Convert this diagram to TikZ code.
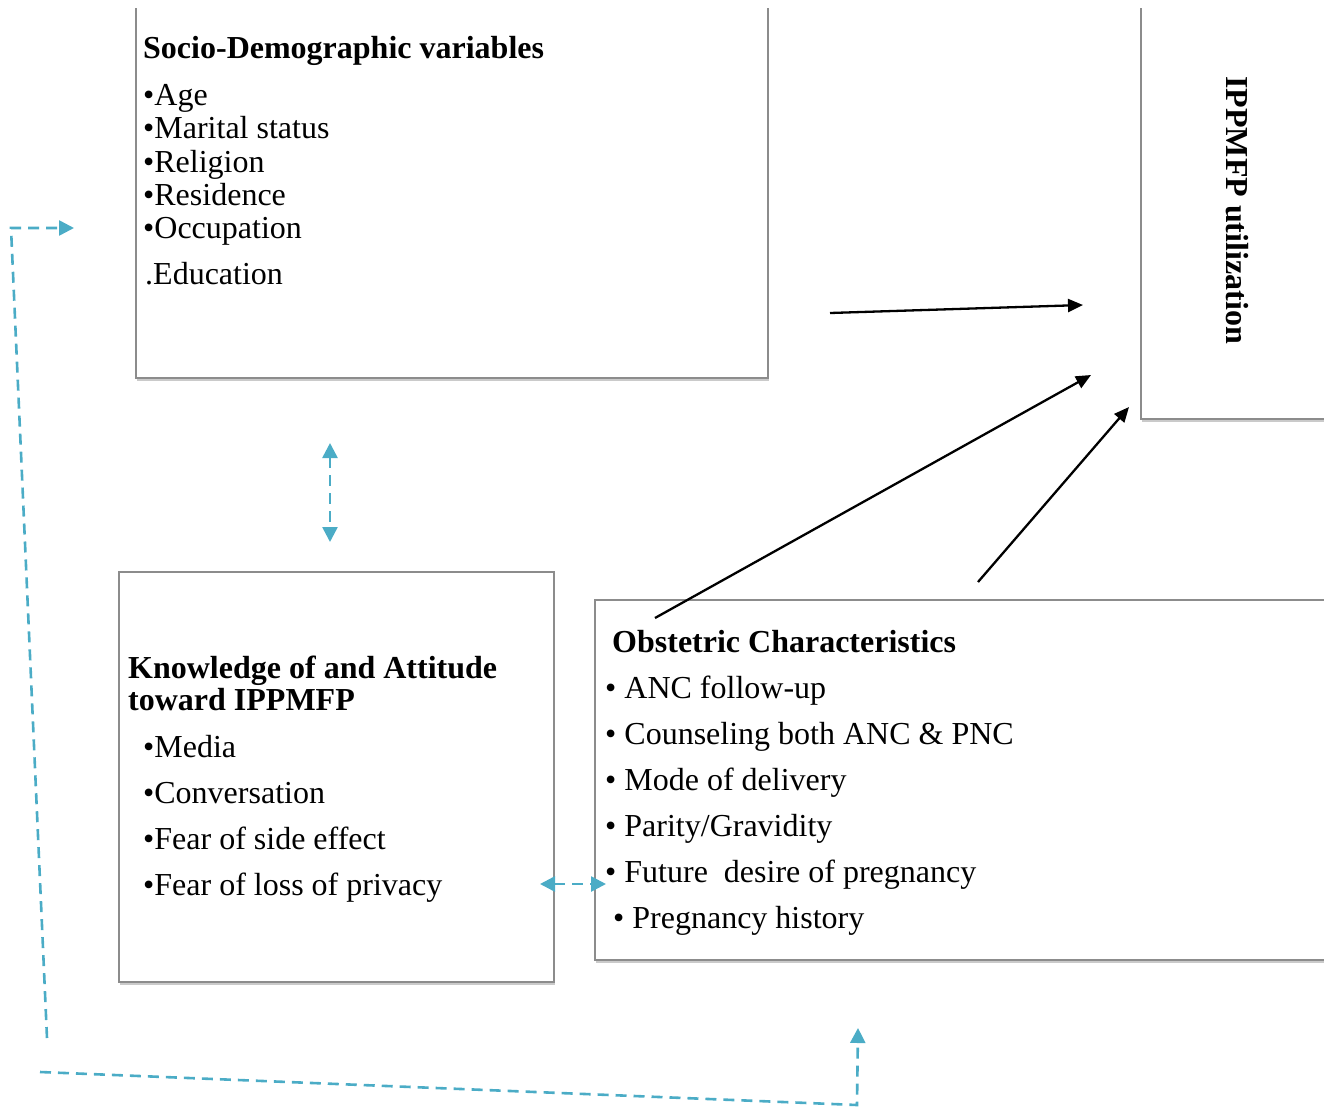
\documentclass[tikz,border=0pt]{standalone}
\usepackage{fontspec}
\setmainfont{Liberation Serif}
\usetikzlibrary{arrows.meta,shadows}
\definecolor{teal1}{HTML}{4BACC6}
\definecolor{boxgray}{HTML}{8C8C8C}
\begin{document}
\begin{tikzpicture}[x=1pt,y=-1pt,
  boxnode/.style={draw=boxgray,line width=1.6pt,fill=white,anchor=north west,inner sep=0pt,
    drop shadow={shadow xshift=1.5pt,shadow yshift=-3pt,opacity=0.35,fill=black!60}},
  txt/.style={anchor=base west,inner sep=0pt,yshift=-2pt,font=\fontsize{32}{36}\selectfont},
  hd/.style={txt,font=\fontsize{32}{36}\selectfont\bfseries},
  blk/.style={line width=2.3pt,-{Triangle[length=15pt,width=13pt]}},
  tl/.style={draw=teal1,line width=2.6pt,dash pattern=on 11pt off 7pt}]
\useasboundingbox (0,0) rectangle (1324,1108);
\begin{scope}
\clip (0,9) rectangle (1324,1108);
\node[boxnode,minimum width=632pt,minimum height=397pt] (socio) at (135,-20) {};
\node[boxnode,minimum width=220pt,minimum height=438pt] (ippm) at (1140,-20) {};
\node[boxnode,minimum width=435pt,minimum height=410pt] (know) at (118,571) {};
\node[boxnode,minimum width=766pt,minimum height=360pt] (obst) at (594,599) {};
\end{scope}
% Socio text
\node[hd] (sh) at (143,57) {Socio-Demographic variables};
\node[txt] (s1) at (143,103) {•Age};
\node[txt] (s2) at (143,136) {•Marital status};
\node[txt] (s3) at (143,170) {•Religion};
\node[txt] (s4) at (143,203) {•Residence};
\node[txt] (s5) at (143,236) {•Occupation};
\node[txt] (s6) at (145,282) {.Education};
% IPPMFP
\node[inner sep=0pt,rotate=-90,font=\fontsize{32}{36}\selectfont\bfseries] (ih) at (1237,210) {IPPMFP utilization};
% Knowledge
\node[hd] (kh1) at (128,676) {Knowledge of and Attitude};
\node[hd] (kh2) at (128,708) {toward IPPMFP};
\node[txt] (k1) at (143,755) {•Media};
\node[txt] (k2) at (143,801) {•Conversation};
\node[txt] (k3) at (143,847) {•Fear of side effect};
\node[txt] (k4) at (143,893) {•Fear of loss of privacy};
% Obstetric
\node[hd] (oh) at (612,650) {Obstetric Characteristics};
\node[txt] (o1) at (605,696) {• ANC follow-up};
\node[txt] (o2) at (605,742) {• Counseling both ANC \& PNC};
\node[txt] (o3) at (605,788) {• Mode of delivery};
\node[txt] (o4) at (605,834) {• Parity/Gravidity};
\node[txt] (o5) at (605,880) {• Future\ \ desire of pregnancy};
\node[txt] (o6) at (613,926) {• Pregnancy history};
% arrow endpoints
\coordinate (a1s) at (830,313); \coordinate (a1e) at (1083,305);
\coordinate (a2s) at (655,618); \coordinate (a2e) at (1091,375);
\coordinate (a3s) at (978,582); \coordinate (a3e) at (1129,407);
\draw[blk] (a1s) -- (a1e);
\draw[blk] (a2s) -- (a2e);
\draw[blk] (a3s) -- (a3e);
% teal
\coordinate (v1) at (330,443); \coordinate (v2) at (330,542);
\coordinate (h1) at (540,884); \coordinate (h2) at (606,884);
\draw[tl,{Triangle[length=15pt,width=15pt]}-{Triangle[length=15pt,width=15pt]},teal1] (v1) -- (v2);
\draw[tl,{Triangle[length=15pt,width=15pt]}-{Triangle[length=15pt,width=15pt]},teal1] (h1) -- (h2);
\coordinate (l1) at (47,1038); \coordinate (l2) at (11,228); \coordinate (l3) at (74,228);
\draw[tl,-{Triangle[length=15pt,width=15pt]},teal1] (l1) -- (l2) -- (l3);
\coordinate (b1) at (40,1072); \coordinate (b2) at (857,1105); \coordinate (b3) at (858,1028);
\draw[tl,-{Triangle[length=15pt,width=15pt]},teal1] (b1) -- (b2) -- (b3);
\end{tikzpicture}
\end{document}
